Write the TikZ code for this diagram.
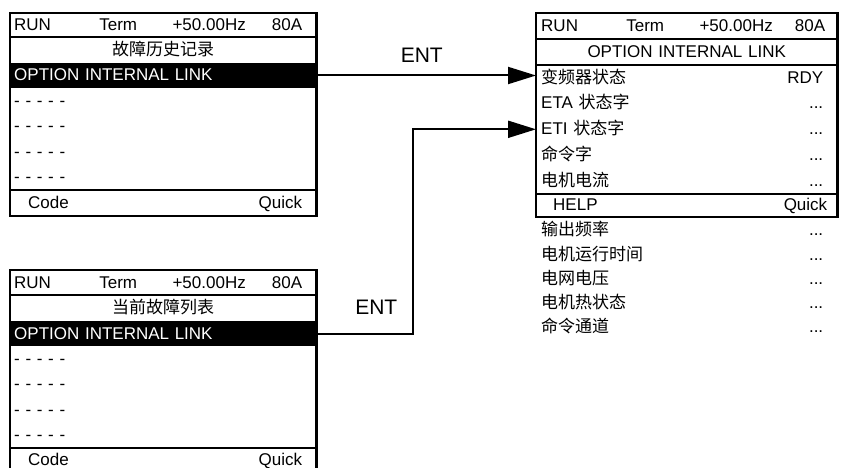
\documentclass[tikz,border=0pt]{standalone}
\usepackage{fontspec}
\setmainfont{Liberation Sans}
\newfontfamily\cjk{Noto Sans CJK SC}
\usepackage{tikz}
\usetikzlibrary{arrows.meta,positioning,fit}
\newcommand{\zh}[1]{{\cjk #1}}
\newcommand{\fillgap}{\hskip 0pt plus 1filll\relax}
\newcommand{\statusline}[1]{\makebox[0pt][l]{RUN}\hspace{104pt}\makebox[0pt]{Term}\hspace{91pt}\makebox[0pt]{+50.00Hz}\fillgap 80A\kern#1}

\begin{document}
\begin{tikzpicture}[
  x=1pt,y=-1pt,
  font=\fontsize{17pt}{20pt}\selectfont,
  lrow/.style={rectangle,inner xsep=4pt,inner ysep=0pt,text width=298pt,
               minimum height=25pt,text height=13.5pt,text depth=2.5pt,align=left},
  rrow/.style={lrow,inner xsep=5pt,text width=291pt,minimum height=25.4pt},
  selbar/.style={fill=black,text=white},
  frame/.style={draw,line width=2.5pt,inner sep=0pt},
  sep/.style={line width=2pt},
  ent/.style={line width=2pt,-{Triangle[length=28pt,width=17pt]}},
  entlbl/.style={font=\fontsize{21pt}{24pt}\selectfont,inner sep=0pt}
]
\useasboundingbox (0,0) rectangle (841,468);

\node[lrow,minimum height=24pt,anchor=north west] (h1) at (10,13) {\statusline{10pt}};
\node[lrow,align=center,below=0pt of h1] (t1) {\zh{故障历史记录}};
\node[lrow,selbar,below=0pt of t1] (s1) {OPTION INTERNAL LINK};
\node[lrow,below=0pt of s1] (d1) {- - - - -};
\node[lrow,below=0pt of d1] (d2) {- - - - -};
\node[lrow,below=0pt of d2] (d3) {- - - - -};
\node[lrow,below=0pt of d3] (d4) {- - - - -};
\node[lrow,minimum height=26pt,below=0pt of d4] (f1) {\kern14pt Code\fillgap Quick\kern10pt};
\node[frame,fit=(h1)(f1)] (p1) {};
\draw[sep] (h1.south west) -- (h1.south east) (f1.north west) -- (f1.north east);

\node[lrow,anchor=north west] (h2) at (10,270) {\statusline{10pt}};
\node[lrow,align=center,below=0pt of h2] (t2) {\zh{当前故障列表}};
\node[lrow,selbar,below=0pt of t2] (s2) {OPTION INTERNAL LINK};
\node[lrow,below=0pt of s2] (e1) {- - - - -};
\node[lrow,below=0pt of e1] (e2) {- - - - -};
\node[lrow,below=0pt of e2] (e3) {- - - - -};
\node[lrow,below=0pt of e3] (e4) {- - - - -};
\node[lrow,minimum height=26pt,text depth=5.5pt,below=0pt of e4] (f2) {\kern14pt Code\fillgap Quick\kern10pt};
\node[frame,fit=(h2)(f2)] (p2) {};
\draw[sep] (h2.south west) -- (h2.south east) (f2.north west) -- (f2.north east);

\node[rrow,minimum height=26pt,anchor=north west] (h3) at (536,13) {\statusline{7pt}};
\node[rrow,align=center,minimum height=25pt,below=0pt of h3] (t3) {OPTION INTERNAL LINK};
\node[rrow,below=0pt of t3] (r1) {\zh{变频器状态}\fillgap RDY\kern9pt};
\node[rrow,below=0pt of r1] (r2) {ETA \zh{状态字}\fillgap ...\kern9pt};
\node[rrow,below=0pt of r2] (r3) {ETI \zh{状态字}\fillgap ...\kern9pt};
\node[rrow,below=0pt of r3] (r4) {\zh{命令字}\fillgap ...\kern9pt};
\node[rrow,below=0pt of r4] (r5) {\zh{电机电流}\fillgap ...\kern9pt};
\node[rrow,minimum height=23pt,below=0pt of r5] (f3) {\kern12pt HELP\fillgap Quick\kern5pt};
\node[frame,fit=(h3)(f3)] (p3) {};
\draw[sep] (h3.south west) -- (h3.south east) (t3.south west) -- (t3.south east)
  (f3.north west) -- (f3.north east);

\node[rrow,minimum height=23.8pt,below=1pt of f3] (m1) {\zh{输出频率}\fillgap ...\kern9pt};
\node[rrow,minimum height=23.8pt,below=0pt of m1] (m2) {\zh{电机运行时间}\fillgap ...\kern9pt};
\node[rrow,minimum height=23.8pt,below=0pt of m2] (m3) {\zh{电网电压}\fillgap ...\kern9pt};
\node[rrow,minimum height=23.8pt,below=0pt of m3] (m4) {\zh{电机热状态}\fillgap ...\kern9pt};
\node[rrow,minimum height=23.8pt,below=0pt of m4] (m5) {\zh{命令通道}\fillgap ...\kern9pt};

\coordinate (bend) at (413,0);
\draw[ent] (s1.east) -- (s1.east -| r1.west) node[entlbl,pos=0.48,above=12pt] {ENT};
\draw[ent] (s2.east) -| node[entlbl,pos=0.31,above=18pt] {ENT} (bend |- r3.west) -- (r3.west);
\end{tikzpicture}
\end{document}
